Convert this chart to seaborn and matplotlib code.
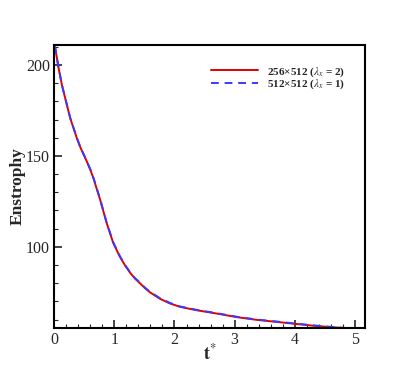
import pandas as pd
import matplotlib
matplotlib.use('Agg')
import matplotlib.pyplot as plt
import seaborn as sns
from matplotlib.ticker import MultipleLocator

# values
t_256 = [0.0, 0.017, 0.073, 0.128, 0.183, 0.267, 0.378, 0.43, 0.49, 0.54, 0.6, 0.65,
         0.76, 0.87, 0.98, 1.09, 1.18, 1.26, 1.34, 1.43, 1.51, 1.59, 1.76, 1.92, 2.09,
         2.37, 2.7, 3.04, 3.37, 3.7, 4.04, 4.37, 4.7, 5.0]
e_256 = [210.4, 209.0, 198.0, 188.8, 181.5, 170.5, 159.5, 155.0, 150.6, 147.0, 142.3, 137.8,
         126.2, 113.2, 102.2, 94.6, 89.6, 85.8, 82.6, 79.8, 77.2, 75.0, 71.4, 68.9, 67.0,
         65.1, 63.3, 61.3, 59.8, 58.7, 57.5, 56.4, 55.6, 54.9]
t_512 = [0.0, 0.017, 0.073, 0.128, 0.183, 0.267, 0.378, 0.43, 0.49, 0.54, 0.6, 0.65,
         0.76, 0.87, 0.98, 1.09, 1.18, 1.26, 1.34, 1.43, 1.51, 1.59, 1.76, 1.92, 2.09,
         2.37, 2.7, 3.04, 3.37, 3.7, 4.04, 4.37, 4.7, 5.0]
e_512 = [210.3, 209.1, 198.2, 189.0, 181.6, 170.7, 159.7, 155.2, 150.8, 147.2, 142.6, 138.1,
         126.5, 113.5, 102.5, 94.9, 89.9, 86.1, 82.9, 80.1, 77.5, 75.3, 71.7, 69.2, 67.2,
         65.3, 63.5, 61.5, 60.0, 58.9, 57.7, 56.6, 55.7, 55.0]

lab_256 = r'256×512 ($\lambda_x$ = 2)'
lab_512 = r'512×512 ($\lambda_x$ = 1)'

sns.set_style('white')
plt.rcParams['font.family'] = ['Liberation Serif', 'DejaVu Serif']
plt.rcParams['mathtext.fontset'] = 'stix'

fig = plt.figure(figsize=(4.15, 3.69), dpi=100)
ax = fig.add_axes([54.3 / 415, 1 - 327.7 / 369, (365 - 54.3) / 415, (327.7 - 45) / 369])

df_256 = pd.DataFrame({'t': t_256, 'E': e_256})
df_512 = pd.DataFrame({'t': t_512, 'E': e_512})

sns.lineplot(data=df_256, x='t', y='E', ax=ax, color='#e00000', lw=1.4, label=lab_256)
sns.lineplot(data=df_512, x='t', y='E', ax=ax, color='#3a3aff', lw=1.4,
             linestyle=(0, (4, 3)), label=lab_512)

ax.set_xlim(0, 5.17)
ax.set_ylim(55.5, 211)
ax.xaxis.set_major_locator(MultipleLocator(1))
ax.xaxis.set_minor_locator(MultipleLocator(0.2))
ax.yaxis.set_major_locator(MultipleLocator(50))
ax.yaxis.set_minor_locator(MultipleLocator(10))
ax.tick_params(which='major', direction='in', length=6, width=1.2, labelsize=11.5,
               bottom=True, left=True, top=False, right=False, pad=3)
ax.tick_params(which='minor', direction='in', length=3, width=0.8,
               bottom=True, left=True, top=False, right=False)
for s in ax.spines.values():
    s.set_linewidth(1.5)
    s.set_color('black')

ax.set_xlabel(r'$\mathbf{t}^{*}$', fontsize=13, labelpad=-3)
ax.set_ylabel('Enstrophy', fontsize=12.5, fontweight='bold', labelpad=0.5)

ax.legend(loc='upper right', frameon=False, prop={'weight': 'bold', 'size': 8},
          handlelength=4.2, borderaxespad=1.4, labelspacing=-0.1)

fig.savefig('out.png', dpi=100)
